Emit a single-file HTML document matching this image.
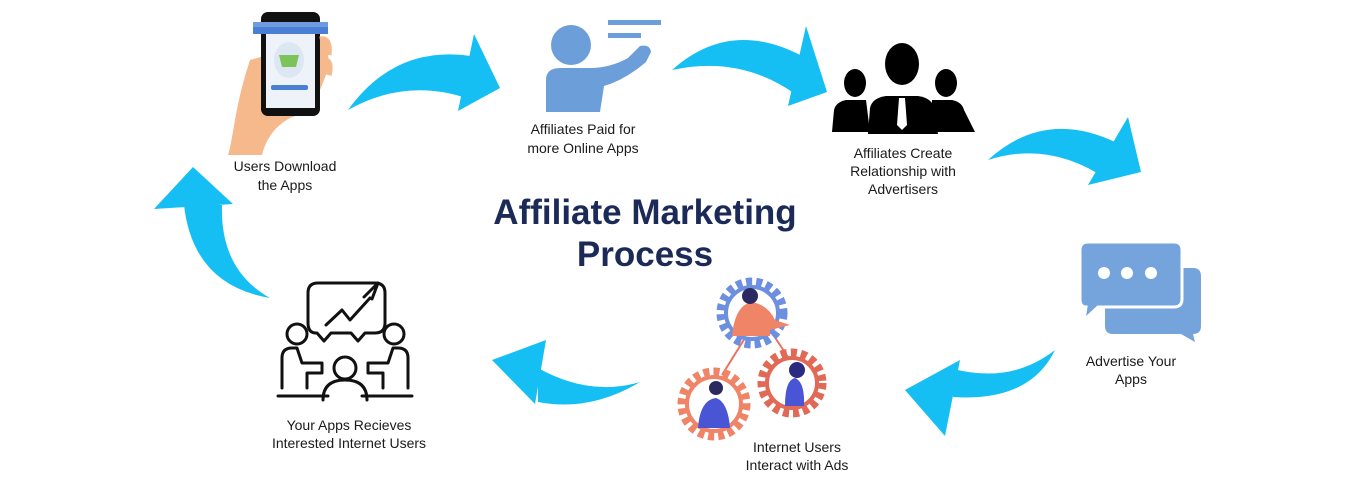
<!DOCTYPE html>
<html><head><meta charset="utf-8"><style>
html,body{margin:0;padding:0;background:#fff;}
svg{display:block;}
text{font-family:"Liberation Sans",sans-serif;}
.lbl{font-size:14px;fill:#1a1a1a;text-anchor:middle;}
.ttl{font-size:35px;fill:#1b2a56;text-anchor:middle;font-weight:bold;}
</style></head><body>
<svg width="1349" height="480" viewBox="0 0 1349 480" xmlns="http://www.w3.org/2000/svg">
<rect width="1349" height="480" fill="#fff"/>
<g fill="#15bff4">
<path d="M348,110 Q395,45 470,56 L466,98 Q405,78 348,110Z"/>
<polygon points="474,34 500,88 458,111"/>
<path d="M672,70 Q730,18 802,56 L795,94 Q740,55 672,70Z"/>
<polygon points="806,26 827,92 788,106"/>
<path d="M988,160 Q1045,108 1117,143 L1108,180 Q1050,140 988,160Z"/>
<polygon points="1128,117 1141,172 1088,185"/>
<path d="M1055,350 Q1030,402 953,397 L950,368 Q1010,385 1055,350Z"/>
<polygon points="960,360 905,390 945,436"/>
<path d="M640,382 Q590,397 538,368 L538,402 Q590,412 640,382Z"/>
<polygon points="546,340 492,360 535,404"/>
<path d="M270,298 Q193,285 184,205 L222,205 Q220,270 270,298Z"/>
<polygon points="154,209 193,167 233,204"/>
</g>

<path d="M250,60 Q240,90 235,120 Q230,150 228,155 L262,155 Q268,130 290,118 L312,110 L328,70 Q330,40 320,40Z" fill="#f6b98b"/>
<rect x="261" y="12" width="59" height="104" rx="7" fill="#111"/>
<rect x="266" y="22" width="49" height="86" fill="#eef3fa"/>
<rect x="253" y="22" width="75" height="12" fill="#4a7fd6"/>
<rect x="253" y="22" width="75" height="5" fill="#6f9be0"/>
<ellipse cx="289" cy="60" rx="15" ry="18" fill="#dce7f3"/>
<path d="M279,55 h20 l-3,12 h-14z" fill="#7cc35a"/>
<rect x="271" y="85" width="37" height="5" rx="2" fill="#4a7fd6"/>
<path d="M320,40 Q330,38 328,55 M322,60 Q332,60 328,75" stroke="#f6b98b" stroke-width="7" fill="none"/>
<text class="lbl" x="285" y="171">Users Download</text>
<text class="lbl" x="285" y="190">the Apps</text>

<circle cx="571" cy="45" r="20" fill="#6c9fda"/>
<path d="M546,112 L546,80 Q546,68 560,68 L590,68 Q610,68 628,58 L640,46 Q650,44 651,52 L646,62 Q625,80 604,86 L600,112Z" fill="#6c9fda"/>
<rect x="608" y="20" width="53" height="5" fill="#6c9fda"/>
<rect x="608" y="33" width="33" height="5" fill="#6c9fda"/>
<text class="lbl" x="583" y="134">Affiliates Paid for</text>
<text class="lbl" x="583" y="153">more Online Apps</text>

<g fill="#000">
<ellipse cx="855" cy="83" rx="11" ry="14"/>
<path d="M832,132 L834,110 Q836,102 846,100 L866,100 L870,132Z"/>
<ellipse cx="946" cy="83" rx="11" ry="14"/>
<path d="M930,132 L932,100 L952,100 Q962,102 964,110 L975,132Z"/>
<ellipse cx="902" cy="64" rx="17" ry="21"/>
<path d="M868,134 L870,108 Q872,98 886,96 L918,96 Q932,98 934,108 L938,134Z"/>
</g>
<path d="M899,98 L905,98 L907,125 L902,130 L897,125Z" fill="#fff"/>
<text class="lbl" x="903" y="158">Affiliates Create</text>
<text class="lbl" x="903" y="176">Relationship with</text>
<text class="lbl" x="903" y="194">Advertisers</text>

<text class="ttl" x="645" y="224">Affiliate Marketing</text>
<text class="ttl" x="645" y="266">Process</text>

<path d="M1105,268 h88 q8,0 8,8 v50 q0,8 -8,8 l2,8 -14,-8 h-68 q-8,0 -8,-8z" fill="#75a3dc"/>
<path d="M1080,242 h94 q8,0 8,8 v49 q0,8 -8,8 h-76 l-14,13 2,-13 q-6,0 -6,-8 v-49 q0,-8 8,-8z" fill="#75a3dc" stroke="#fff" stroke-width="3"/>
<circle cx="1104" cy="273" r="6" fill="#fff"/>
<circle cx="1127" cy="273" r="6" fill="#fff"/>
<circle cx="1151" cy="273" r="6" fill="#fff"/>
<text class="lbl" x="1131" y="366">Advertise Your</text>
<text class="lbl" x="1131" y="384">Apps</text>

<line x1="750" y1="330" x2="722" y2="375" stroke="#e9735e" stroke-width="2"/>
<line x1="770" y1="330" x2="790" y2="360" stroke="#e9735e" stroke-width="2"/>
<circle cx="752" cy="313" r="31" fill="none" stroke="#6c8fe0" stroke-width="9" stroke-dasharray="6 4"/>
<circle cx="752" cy="313" r="26" fill="#fff" stroke="#6c8fe0" stroke-width="4"/>
<path d="M732,336 Q735,305 752,302 Q768,305 775,320 L790,325 L770,330 L770,336Z" fill="#ef8467"/>
<circle cx="750" cy="296" r="8" fill="#2a2a60"/>
<circle cx="714" cy="404" r="32" fill="none" stroke="#ef8467" stroke-width="9" stroke-dasharray="6 4"/>
<circle cx="714" cy="404" r="27" fill="#fff" stroke="#ef8467" stroke-width="4"/>
<path d="M698,428 Q700,400 716,398 Q728,402 730,428Z" fill="#4a55d6"/>
<circle cx="716" cy="388" r="7" fill="#2a2a60"/>
<circle cx="792" cy="383" r="30" fill="none" stroke="#e06a55" stroke-width="9" stroke-dasharray="6 4"/>
<circle cx="792" cy="383" r="25" fill="#fff" stroke="#e06a55" stroke-width="4"/>
<path d="M785,406 Q785,380 795,378 Q805,382 804,406Z" fill="#4a55d6"/>
<circle cx="797" cy="370" r="8" fill="#2a2a80"/>
<text class="lbl" x="797" y="452">Internet Users</text>
<text class="lbl" x="797" y="470">Interact with Ads</text>

<g fill="none" stroke="#111" stroke-width="3" stroke-linecap="round" stroke-linejoin="round">
<path d="M320,283 h55 q10,0 10,10 v30 q0,10 -10,10 h-10 l-7,8 -7,-8 h-20 l-7,8 -7,-8 h-1 q-8,0 -8,-10 v-30 q0,-10 10,-10z"/>
<polyline points="326,325 342,310 350,320 370,298"/>
<polyline points="364,297 378,283 372,299"/>
<circle cx="297" cy="334" r="10"/>
<circle cx="394" cy="334" r="10"/>
<circle cx="345" cy="368" r="11"/>
<path d="M282,388 v-30 q0,-10 10,-10 h5 l5,15 h20 v10 h-15 v15"/>
<path d="M408,388 v-30 q0,-10 -10,-10 h-5 l-5,15 h-20 v10 h15 v15"/>
<path d="M323,400 q0,-20 22,-20 q22,0 22,20"/>
<path d="M278,396 h50 M362,396 h50"/>
</g>
<text class="lbl" x="349" y="430">Your Apps Recieves</text>
<text class="lbl" x="349" y="448">Interested Internet Users</text>
</svg>
</body></html>
